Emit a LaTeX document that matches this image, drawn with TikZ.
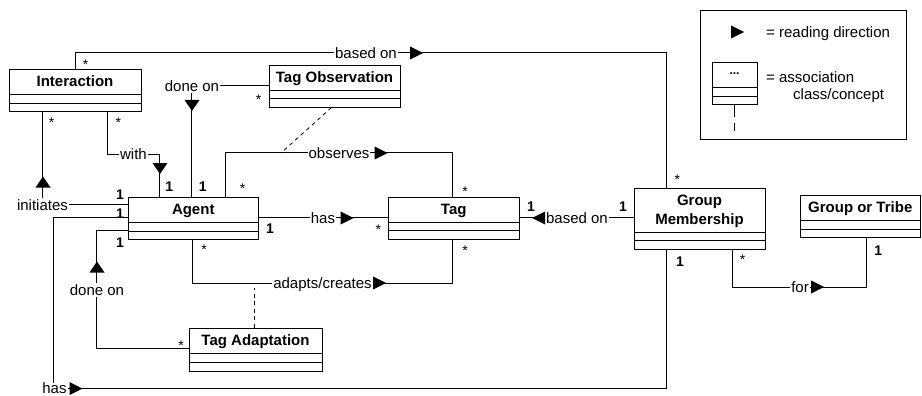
\documentclass[tikz,border=0pt]{standalone}
\usepackage{fontspec}
\setmainfont{Liberation Sans}
\usetikzlibrary{fit,calc}
\tikzset{
  box/.style={draw, line width=0.9pt, inner sep=0pt},
  cname/.style={font=\fontsize{15}{19}\selectfont\bfseries, align=center, inner sep=0pt, text depth=0pt},
  lbl/.style={fill=white, inner xsep=1pt, inner ysep=1.5pt, text height=10.7pt, text depth=0pt, font=\fontsize{15}{15}\selectfont},
  legtxt/.style={inner sep=0pt, text height=10.7pt, text depth=0pt, font=\fontsize{15}{15}\selectfont, anchor=west},
  mult/.style={font=\fontsize{14}{14}\selectfont\bfseries, inner sep=0pt, text height=10pt, text depth=0pt},
  star/.style={font=\fontsize{14}{14}\selectfont, inner sep=0pt, text height=10pt, text depth=0pt},
  conn/.style={line width=0.8pt},
  assoc/.style={line width=0.8pt, dash pattern=on 4pt off 3.5pt},
  triR/.pic={\fill (-6.5,-6.5) -- (6.5,0) -- (-6.5,6.5) -- cycle;},
  triL/.pic={\fill (6.5,-6.5) -- (-6.5,0) -- (6.5,6.5) -- cycle;},
  triD/.pic={\fill (-7.5,-5.5) -- (7.5,-5.5) -- (0,5.5) -- cycle;},
  triU/.pic={\fill (-7.5,5.5) -- (7.5,5.5) -- (0,-5.5) -- cycle;},
}
% name, x1, y1, x2, y2, header line y, second line y, text
\newcommand{\umlclass}[8]{%
  \node[box, fit={(#2,#3) (#4,#5)}] (#1) {};
  \draw[line width=0.9pt] (#2,#6) -- (#4,#6) (#2,#7) -- (#4,#7);
  \node[cname] (#1-name) at ({(#2+#4)/2},{(#3+#6)/2}) {#8};
}
\begin{document}
\begin{tikzpicture}[x=1pt,y=-1pt]
\useasboundingbox (0,0) rectangle (922,396);

% classes
\umlclass{interaction}{9}{69}{141}{111}{94}{103}{Interaction}
\umlclass{tagobs}{269}{65}{400}{107}{90}{98.5}{Tag Observation}
\umlclass{agent}{128}{197}{258.5}{239}{222}{231}{Agent}
\umlclass{tag}{388}{197}{519.5}{239}{222}{230.5}{Tag}
\umlclass{tagadapt}{189}{328}{322}{371}{353}{362}{Tag Adaptation}
\umlclass{gm}{634}{188}{765}{249}{232}{240.5}{Group\\Membership}
\umlclass{got}{800}{195}{920.5}{237}{220}{229}{Group or Tribe}

% connectors
\draw[conn] ($(interaction.north west)+(67,0)$) -- ++(0,-16) -| ($(gm.north west)+(33,0)$);
\draw[conn] ($(interaction.south west)+(34,0)$) |- ($(agent.north west)+(0,8)$);
\draw[conn] ($(interaction.south west)+(99,0)$) -- ++(0,43) -| ($(agent.north west)+(32,0)$);
\draw[conn] ($(tagobs.north west)+(0,21)$) -| ($(agent.north west)+(64,0)$);
\draw[conn] ($(agent.north west)+(98,0)$) -- ++(0,-44) -| ($(tag.north west)+(65,0)$);
\draw[conn] ($(agent.north east)+(0,21)$) -- ($(tag.north west)+(0,21)$);
\draw[conn] ($(agent.south west)+(65,0)$) -- ++(0,44) -| ($(tag.south west)+(65,0)$);
\draw[conn] ($(tagadapt.north west)+(0,21)$) -| ($(agent.north west)+(-31,34)$) -- ($(agent.north west)+(0,34)$);
\draw[conn] ($(gm.north west)+(0,30)$) -- ($(tag.north east)+(0,21)$);
\coordinate (hasturn) at (53,388.5);
\draw[conn] ($(agent.north west)+(0,21)$) -| (hasturn) -| ($(gm.south west)+(33,0)$);
\draw[conn] ($(gm.south west)+(99,0)$) -- ++(0,38) -| ($(got.south west)+(67,0)$);

% association-class links
\coordinate (obsfoot) at (281,153);
\draw[assoc] ($(tagobs.south west)+(63,0)$) -- (obsfoot);
\draw[assoc] ($(tagadapt.north west)+(66,0)$) -- ++(0,-40);

% labels
\node[lbl] (l-basedtop) at (366,53) {based on};
\node[lbl] (l-init) at (42.5,205) {initiates};
\node[lbl] (l-with) at (133.5,154) {with};
\node[lbl] (l-doneon1) at (192,86) {done on};
\node[lbl] (l-obs) at (339,153) {observes};
\node[lbl] (l-has1) at (323,218) {has};
\node[lbl] (l-adapt) at (322.5,283) {adapts/creates};
\node[lbl] (l-doneon2) at (97,290) {done on};
\node[lbl] (l-based2) at (577,218) {based on};
\node[lbl, inner ysep=0.5pt] (l-has2) at (54.5,388.5) {has};
\node[lbl] (l-for) at (800,287) {for};

% reading-direction arrows
\pic at (416.5,53) {triR};
\pic at (43,182) {triU};
\pic at (160,168.5) {triD};
\pic at (192,105.5) {triD};
\pic at (381,153) {triR};
\pic at (347,218) {triR};
\pic at (379.5,283) {triR};
\pic at (97,267) {triU};
\pic at (538.5,218) {triL};
\pic at (76,388.5) {triR};
\pic at (817.5,287) {triR};

% multiplicities
\node[star] (m1) at (85.7,64.7) {*};
\node[star] (m2) at (677.3,179) {*};
\node[star] (m3) at (51.7,123) {*};
\node[star] (m4) at (118.3,123) {*};
\node[star] (m5) at (258.7,99.7) {*};
\node[star] (m6) at (242.7,188) {*};
\node[star] (m7) at (465,191.3) {*};
\node[star] (m8) at (378.3,229.7) {*};
\node[star] (m9) at (204,249.7) {*};
\node[star] (m10) at (465,250.3) {*};
\node[star] (m11) at (181,345.7) {*};
\node[star] (m12) at (742.7,259) {*};
\node[mult] (n1) at (120,194) {1};
\node[mult] (n2) at (169.3,186.7) {1};
\node[mult] (n3) at (202.7,186.7) {1};
\node[mult] (n4) at (120,213.3) {1};
\node[mult] (n5) at (120,242.7) {1};
\node[mult] (n6) at (270,228.3) {1};
\node[mult] (n7) at (531,206.5) {1};
\node[mult] (n8) at (623,206.5) {1};
\node[mult] (n9) at (680,261.7) {1};
\node[mult] (n10) at (878.3,250) {1};

% legend
\node[box, fit={(700,10) (906,139)}] (legend) {};
\pic at (737.5,32) {triR};
\node[legtxt] (leg1) at (766,32) {= reading direction};
\node[box, fit={(712,62) (757,104)}] (legcls) {};
\draw[line width=0.9pt] (712,87) -- (757,87) (712,96) -- (757,96);
\node[inner sep=0pt, font=\fontsize{12}{12}\selectfont\bfseries] (legdots) at (734.5,74) {...};
\draw[line width=0.8pt, dash pattern=on 13pt off 6pt] (legcls.south) -- ++(0,27);
\node[legtxt] (leg2) at (766,77) {= association};
\node[legtxt] (leg3) at (793,94) {class/concept};
\end{tikzpicture}
\end{document}
